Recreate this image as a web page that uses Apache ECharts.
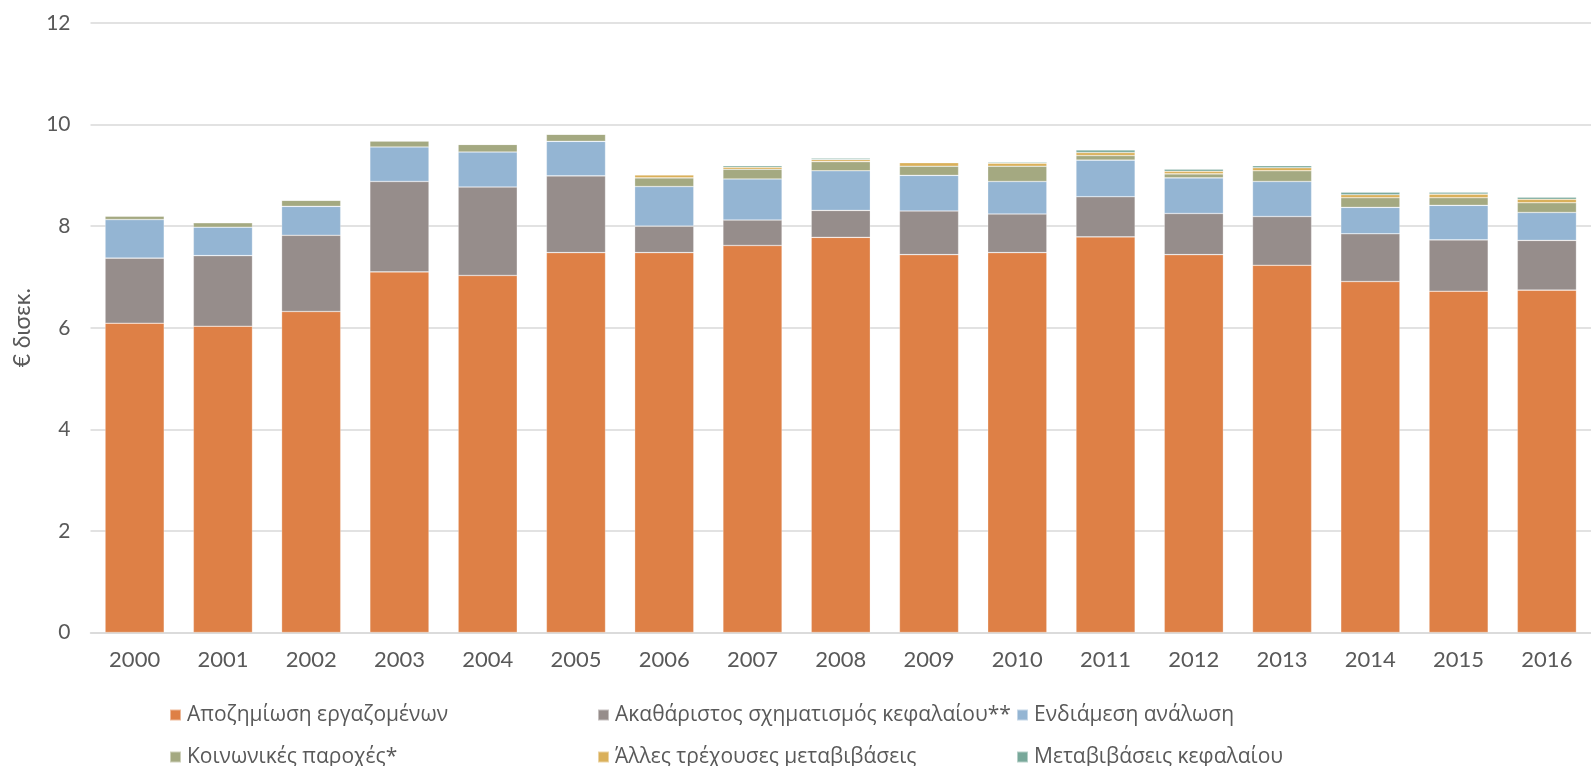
<!DOCTYPE html>
<html>
<head>
<meta charset="utf-8">
<script src="https://cdn.jsdelivr.net/npm/echarts@6/dist/echarts.min.js"></script>
<style>
  html, body { margin: 0; padding: 0; background: #fff; }
  #chart { width: 1591px; height: 766px; }
</style>
</head>
<body>
<div id="chart"></div>
<script>
const years = ["2000", "2001", "2002", "2003", "2004", "2005", "2006", "2007", "2008",
  "2009", "2010", "2011", "2012", "2013", "2014", "2015", "2016"];
const yTicks = [0, 2, 4, 6, 8, 10, 12];

const compensation = [6.09, 6.03, 6.32, 7.10, 7.03, 7.48, 7.48, 7.62, 7.78, 7.44, 7.48, 7.79, 7.44, 7.23, 6.91, 6.72, 6.74];
const grossCapital = [1.28, 1.39, 1.50, 1.78, 1.74, 1.51, 0.52, 0.50, 0.53, 0.86, 0.76, 0.79, 0.81, 0.96, 0.94, 1.01, 0.98];
const intermediate = [0.76, 0.56, 0.57, 0.68, 0.69, 0.68, 0.78, 0.81, 0.78, 0.70, 0.64, 0.72, 0.70, 0.69, 0.52, 0.68, 0.55];
const socialBenefits = [0.07, 0.09, 0.12, 0.12, 0.15, 0.14, 0.17, 0.19, 0.18, 0.18, 0.30, 0.09, 0.08, 0.21, 0.19, 0.15, 0.19];
const otherTransfers = [0, 0, 0, 0, 0, 0, 0.06, 0.04, 0.04, 0.07, 0.06, 0.06, 0.05, 0.06, 0.06, 0.07, 0.07];
const capitalTransfers = [0, 0, 0, 0, 0, 0, 0.01, 0.03, 0.03, 0.01, 0.02, 0.05, 0.04, 0.04, 0.05, 0.04, 0.04];

const names = [
  "Αποζημίωση εργαζομένων",
  "Ακαθάριστος σχηματισμός κεφαλαίου**",
  "Ενδιάμεση ανάλωση",
  "Κοινωνικές παροχές*",
  "Άλλες τρέχουσες μεταβιβάσεις",
  "Μεταβιβάσεις κεφαλαίου"
];
const colors = ["#DE8046", "#968D8B", "#94B5D3", "#A4A981", "#DAB05A", "#78A89A"];
const values = [compensation, grossCapital, intermediate, socialBenefits, otherTransfers, capitalTransfers];

let myChart = echarts.init(document.getElementById("chart"));
const gridColor = "#D9D9D9";
const labelColor = "#595959";
const axisFont = "Lato, 'DejaVu Sans', sans-serif";
const legendFont = "'Open Sans', 'Noto Sans', sans-serif";

// legend grid: 3 columns x 2 rows, one legend per entry
const legendLeft = [169, 597, 1016];
const legendTop = [704, 746];

function legendItem(i) {
  return {
    left: legendLeft[i % 3],
    top: legendTop[Math.floor(i / 3)],
    padding: 0,
    itemWidth: 11,
    itemHeight: 11,
    icon: "rect",
    data: [names[i]],
    textStyle: {
      color: labelColor,
      fontSize: 21,
      fontFamily: legendFont,
      lineHeight: 22,
      padding: [0, 0, 0, 1]
    }
  };
}

let option = {
  animation: false,
  color: colors,
  grid: {
    left: 90.5,
    right: -12.5,
    top: 23,
    bottom: 133.5
  },
  legend: names.map((n, i) => legendItem(i)),
  xAxis: {
    type: "category",
    data: years,
    axisLine: { lineStyle: { color: gridColor, width: 1.5 } },
    axisTick: { show: false },
    axisLabel: {
      color: labelColor,
      fontSize: 22,
      fontFamily: axisFont,
      margin: 16
    }
  },
  yAxis: {
    type: "value",
    min: yTicks[0],
    max: yTicks[yTicks.length - 1],
    interval: 2,
    name: "€ δισεκ.",
    nameLocation: "middle",
    nameRotate: 90,
    nameGap: 56,
    nameTextStyle: {
      color: labelColor,
      fontSize: 23,
      fontFamily: axisFont
    },
    axisLine: { show: false },
    axisTick: { show: false },
    splitLine: { lineStyle: { color: gridColor, width: 1.5 } },
    axisLabel: {
      color: labelColor,
      fontSize: 21,
      fontFamily: axisFont,
      margin: 20
    }
  },
  series: names.map((n, i) => ({
    name: n,
    type: "bar",
    stack: "total",
    barCategoryGap: "33%",
    data: values[i],
    itemStyle: {
      color: colors[i],
      borderColor: "rgba(255,255,255,0.45)",
      borderWidth: 0.6
    }
  }))
};
myChart.setOption(option);
</script>
</body>
</html>
